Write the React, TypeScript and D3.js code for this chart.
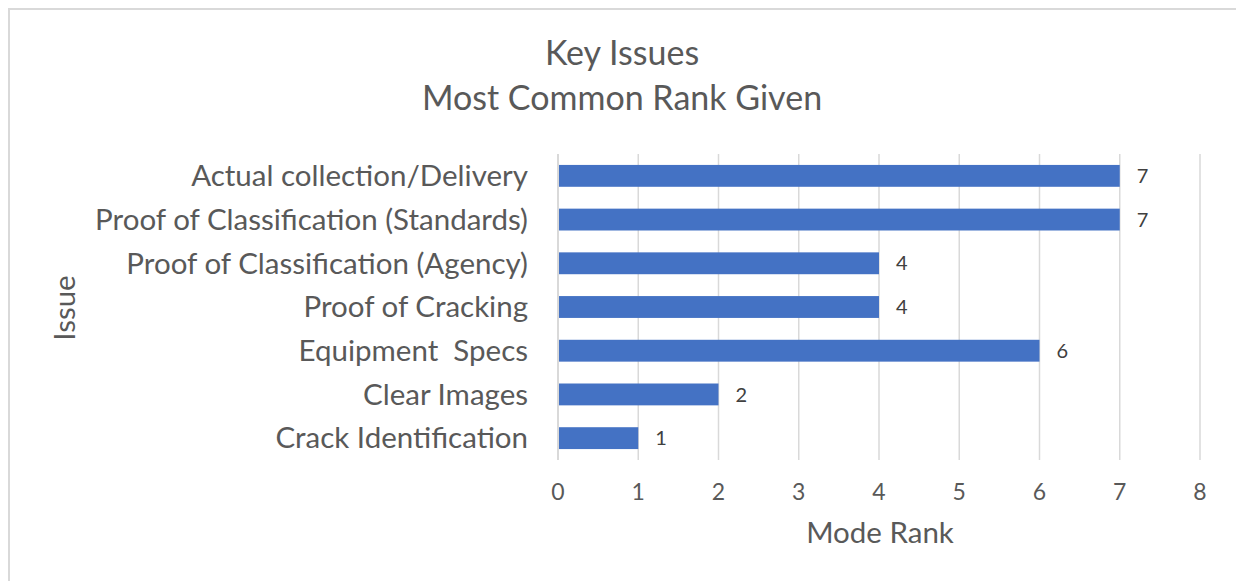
import React from "react";
import * as d3 from "d3";

const categories = [
  "Actual collection/Delivery",
  "Proof of Classification (Standards)",
  "Proof of Classification (Agency)",
  "Proof of Cracking",
  "Equipment  Specs",
  "Clear Images",
  "Crack Identification",
];
const values = [7, 7, 4, 4, 6, 2, 1];
const xTicks = [0, 1, 2, 3, 4, 5, 6, 7, 8];
const titleLines = ["Key Issues", "Most Common Rank Given"];
const xAxisTitle = "Mode Rank";
const yAxisTitle = "Issue";

const W = 1236;
const H = 581;
const FONT = "Lato, 'Open Sans', sans-serif";
const TEXT = "#595959";

export default function App() {
  const x = d3.scaleLinear().domain([0, 8]).range([558, 1200]);
  const y = d3.scaleBand<string>().domain(categories).range([154, 460]).paddingInner(0.5).paddingOuter(0.25);

  return (
    <svg width={W} height={H} style={{ position: "absolute", left: 0, top: 0, background: "#fff" }}>
      <rect x={9} y={9} width={W + 20} height={H + 20} fill="#fff" stroke="#d9d9d9" strokeWidth={2} />
      {titleLines.map((t, i) => (
        <text key={t} x={622} y={65 + i * 45} textAnchor="middle" fontFamily={FONT} fontSize={34} fill={TEXT}>
          {t}
        </text>
      ))}
      {xTicks.map((t) => (
        <g key={t}>
          <line x1={x(t)} x2={x(t)} y1={154} y2={460} stroke="#d9d9d9" strokeWidth={t === 0 ? 2 : 1.5} />
          <text x={x(t)} y={500} textAnchor="middle" fontFamily={FONT} fontSize={23} fill={TEXT}>
            {t}
          </text>
        </g>
      ))}
      {categories.map((c, i) => {
        const yy = y(c)!;
        const bw = y.bandwidth();
        return (
          <g key={c}>
            <rect x={x(0) + 1} y={yy} width={x(values[i]) - x(0) - 1} height={bw} fill="#4472C4" />
            <text
              x={528}
              y={yy + bw / 2}
              dy="0.35em"
              textAnchor="end"
              fontFamily={FONT}
              fontSize={29.5}
              fill={TEXT}
              style={{ whiteSpace: "pre" }}
            >
              {c}
            </text>
            <text x={x(values[i]) + 17} y={yy + bw / 2} dy="0.36em" fontFamily={FONT} fontSize={20} fill="#404040">
              {values[i]}
            </text>
          </g>
        );
      })}
      <text x={880} y={543} textAnchor="middle" fontFamily={FONT} fontSize={29.5} fill={TEXT}>
        {xAxisTitle}
      </text>
      <text transform="translate(75,308) rotate(-90)" textAnchor="middle" fontFamily={FONT} fontSize={29.5} fill={TEXT}>
        {yAxisTitle}
      </text>
    </svg>
  );
}
